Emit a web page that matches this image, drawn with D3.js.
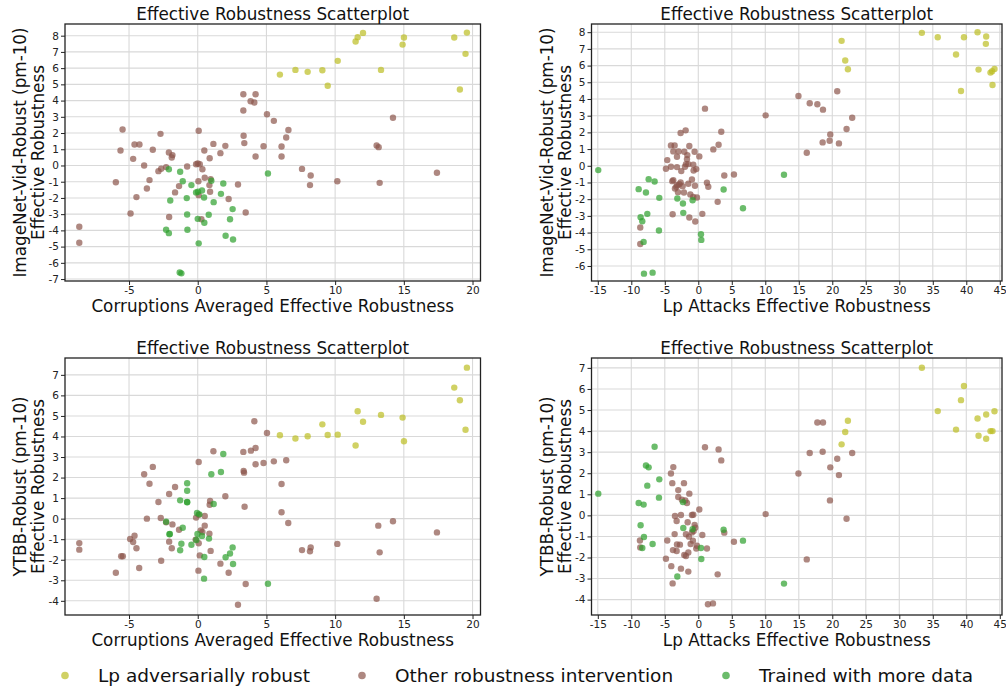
<!DOCTYPE html>
<html>
<head>
<meta charset="utf-8">
<script src="https://cdn.jsdelivr.net/npm/d3@7"></script>
<style>
  html, body { margin: 0; padding: 0; background: #fff; }
  svg { display: block; font-family: "DejaVu Sans", sans-serif; }
</style>
</head>
<body>
<svg id="chart" width="1006" height="688"></svg>
<script>
// ---- Data: [x, y] effective robustness per model, grouped by intervention type ----

// ImageNet-Vid-Robust vs. corruptions averaged effective robustness
const corrVidAdv = [[5.98,5.6],[7.11,5.89],[8.0,5.77],[9.07,5.87],[9.46,4.91],[10.19,6.45],[11.49,7.64],[11.64,7.91],[12.03,8.17],[13.34,5.89],[14.91,7.45],[15.01,7.89],[18.67,7.89],[19.59,8.19],[19.49,6.88],[19.08,4.68]];
const corrVidOther = [[-8.62,-3.78],[-8.62,-4.76],[-5.47,2.22],[-5.62,0.92],[-4.6,1.29],[-4.24,1.29],[-4.7,0.41],[-3.27,0.97],[-2.71,1.95],[-3.9,0],[-5.96,-1.03],[-3.51,-0.9],[-3.7,-1.42],[-4.46,-1.95],[-4.89,-2.96],[-2.86,-0.35],[-2.66,-0.2],[-2.3,-0.1],[-2.1,0.8],[-1.84,0.64],[-1.89,0.49],[-1.36,-1.27],[-1.65,-1.66],[-2.08,-3.18],[-0.77,-0.06],[-0.12,0.08],[0,0.12],[0.15,0.08],[0.07,2.14],[0.34,-0.23],[0.48,0.92],[0.51,-0.76],[0.87,0.45],[1.14,1.33],[0.05,-0.97],[0.94,-0.84],[0.85,-1.21],[0.9,-1.62],[0.07,-1.83],[0.27,-3.31],[1.65,0.76],[2.01,1.21],[2.25,-2.07],[2.93,-1.17],[3.49,-2.9],[3.32,4.39],[4.21,4.39],[3.85,3.96],[4.12,3.88],[3.32,3.39],[3.34,1.83],[3.39,1.38],[5.04,3.16],[5.54,2.75],[4.79,1.19],[4.21,0.55],[6.1,1.17],[6.1,0.55],[6.44,1.72],[6.6,2.19],[7.59,-0.21],[8.22,-0.62],[8.17,-1.21],[10.16,-0.97],[13.02,1.23],[13.17,1.13],[14.21,2.94],[13.24,-1.07],[17.41,-0.45]];
const corrVidData = [[-2.1,-0.23],[-1.28,-0.39],[-1.09,-0.97],[-0.46,-1.21],[-2.0,-2.16],[-0.8,-2.01],[-0.12,-1.66],[0.02,-1.62],[0.31,-1.54],[0.99,-0.94],[1.86,-1.11],[1.69,-1.75],[0.46,-1.97],[1.16,-2.26],[-0.77,-3.02],[0.8,-3.04],[0,-3.29],[0.48,-3.53],[2.54,-2.69],[2.35,-3.31],[-2.3,-3.96],[-2.1,-4.17],[-0.75,-3.96],[2.03,-4.33],[2.57,-4.56],[0.07,-4.8],[-1.31,-6.59],[-1.19,-6.65],[5.11,-0.49]];

// ImageNet-Vid-Robust vs. Lp attacks effective robustness
const lpVidAdv = [[21.39,7.48],[21.93,6.3],[22.33,5.78],[33.37,7.96],[35.74,7.7],[39.65,7.7],[41.68,8.0],[42.97,7.74],[42.92,7.3],[38.47,6.66],[41.83,5.76],[43.61,5.58],[43.86,5.66],[44.21,5.8],[39.21,4.48],[43.91,4.84]];
const lpVidOther = [[1.0,3.42],[-2.64,1.96],[-1.89,2.12],[3.43,2.04],[-4.08,1.22],[-3.53,1.22],[-1.34,1.18],[3.03,1.26],[2.24,0.98],[-3.73,0.86],[-2.94,0.86],[-2.09,0.84],[-0.55,0.84],[-1.64,0.64],[-3.18,0.54],[0.15,0.56],[-4.63,0.34],[-1.69,0.4],[-1.84,0.1],[-1.49,0.1],[-0.75,0.06],[-4.08,-0.06],[-3.18,-0.08],[-1.99,-0.06],[-4.83,-0.18],[-0.3,-0.2],[-0.7,-0.28],[-2.54,-0.32],[3.88,-0.58],[5.32,-0.52],[-0.95,-0.82],[-3.88,-0.92],[-3.73,-0.86],[-2.64,-1.0],[-2.84,-1.1],[-1.49,-1.08],[-3.13,-1.16],[-3.28,-1.26],[-2.34,-1.22],[-0.5,-1.2],[1.29,-1.02],[1.49,-1.26],[-3.48,-1.36],[-3.03,-1.58],[-2.14,-1.6],[-1.19,-1.72],[-0.75,-1.86],[-0.2,-1.9],[2.89,-2.16],[-3.83,-2.9],[-1.34,-3.1],[-0.45,-3.34],[0.6,-2.88],[-8.66,-3.7],[-8.66,-4.68],[10.05,3.02],[14.95,4.18],[16.63,3.74],[17.77,3.68],[18.61,3.36],[20.74,4.46],[22.97,2.88],[22.13,2.2],[19.7,1.88],[18.56,1.4],[19.6,1.5],[20.99,1.34],[16.19,0.78]];
const lpVidData = [[-14.93,-0.26],[-7.41,-0.8],[-6.52,-0.94],[-8.9,-1.4],[-7.81,-1.6],[-5.82,-1.92],[-8.61,-3.08],[-8.36,-3.32],[-7.61,-2.88],[-5.87,-3.88],[-8.16,-4.56],[-8.11,-6.46],[-6.82,-6.4],[-3.13,-1.96],[-2.29,-2.26],[-2.24,-2.82],[-0.85,-2.06],[0.4,-4.1],[0.45,-4.44],[3.78,-1.42],[6.67,-2.54],[12.79,-0.54]];

// YTBB-Robust vs. corruptions averaged effective robustness
const corrYtbbAdv = [[5.98,4.06],[7.11,3.9],[8.0,4.01],[9.07,4.59],[9.46,4.07],[10.19,4.09],[11.49,3.56],[11.64,5.23],[12.03,4.72],[13.34,5.05],[14.91,4.92],[15.01,3.77],[18.67,6.38],[19.08,5.76],[19.59,7.35],[19.49,4.33]];
const corrYtbbOther = [[-8.62,-1.19],[-8.62,-1.51],[-5.96,-2.63],[-5.57,-1.83],[-5.45,-1.83],[-4.92,-0.99],[-4.6,-0.83],[-4.7,-1.14],[-4.46,-1.44],[-4.26,-2.4],[-3.9,2.16],[-3.27,2.52],[-3.51,1.7],[-2.86,0.81],[-3.7,0],[-2.69,0.03],[-2.66,-2.05],[-2.08,1.2],[-1.65,1.54],[-2.3,-0.18],[-1.84,-0.28],[-1.36,-0.54],[-2.08,-1.12],[-1.89,-1.44],[0.07,2.76],[1.14,3.28],[-0.12,0.05],[0.07,0.19],[0.51,0.13],[0.51,-0.34],[0.22,-0.57],[0.34,-0.65],[0.85,-0.73],[0.87,0.68],[0.9,0.86],[2.01,1.09],[-0.15,-1.02],[0.07,-1.2],[0.15,-1.79],[0.94,-1.57],[1.65,-2.19],[2.25,-2.63],[0.05,-2.53],[3.49,-3.18],[2.93,-4.19],[3.32,3.25],[3.87,3.31],[4.21,3.44],[4.12,4.74],[5.04,4.17],[3.34,2.32],[3.37,2.24],[3.41,0.58],[4.21,2.65],[4.79,2.71],[5.54,2.79],[6.44,2.84],[6.1,1.69],[6.1,0.31],[6.59,-0.21],[7.59,-1.53],[8.22,-1.4],[8.17,-1.59],[10.16,-1.23],[13.02,-3.9],[13.14,-0.34],[13.24,-1.64],[14.21,-0.13],[17.41,-0.67]];
const corrYtbbData = [[-0.77,1.72],[-0.77,1.36],[-1.28,0.89],[-0.77,0.81],[-0.77,0.8],[-2.3,-0.15],[-2.03,-0.75],[-2.06,-0.76],[-1.09,-0.44],[-0.05,0.28],[0.12,0.21],[-0.02,-0.75],[0.31,-0.84],[-0.1,-1.04],[0.82,-0.97],[1.16,0.71],[-0.46,-1.27],[-1.19,-1.22],[-1.28,-1.54],[0.48,-1.87],[0.99,2.16],[1.69,2.27],[1.86,3.15],[2.54,-1.4],[2.35,-1.7],[2.03,-1.88],[2.57,-2.21],[0.46,-2.92],[5.11,-3.17]];

// YTBB-Robust vs. Lp attacks effective robustness
const lpYtbbAdv = [[21.39,3.37],[21.93,3.96],[22.33,4.49],[33.37,7.01],[35.74,4.95],[39.65,6.14],[39.21,5.47],[38.47,4.07],[41.68,4.6],[42.97,4.79],[41.83,3.78],[42.97,3.64],[44.21,4.94],[43.61,4.0],[43.91,4.0]];
const lpYtbbOther = [[1.0,3.23],[3.03,3.13],[3.43,2.61],[-3.73,2.29],[-4.08,1.99],[-3.88,1.53],[-2.14,1.53],[-2.99,1.2],[-1.34,1.03],[-2.99,0.87],[-2.44,0.74],[-1.94,0.71],[-1.69,0.59],[0.15,0.28],[-3.48,-0.03],[-2.59,0.02],[-0.95,0.02],[-0.75,0.03],[-3.23,-0.27],[-1.59,-0.33],[-0.55,-0.46],[-0.45,-0.59],[-0.7,-0.74],[-0.95,-0.81],[-3.53,-0.89],[-1.84,-0.9],[-1.39,-1.01],[0.6,-0.93],[3.88,-0.82],[-4.63,-1.19],[-0.8,-1.2],[-3.18,-1.38],[-2.74,-1.39],[-1.14,-1.36],[-0.2,-1.44],[-0.3,-1.57],[1.29,-1.57],[-3.78,-1.65],[-3.23,-1.69],[-1.49,-1.76],[-2.09,-1.88],[-1.84,-1.93],[5.32,-1.25],[-4.83,-2.06],[-4.03,-2.41],[-2.59,-2.53],[-1.49,-2.67],[2.89,-2.8],[-3.83,-3.23],[1.44,-4.22],[2.19,-4.18],[-8.71,-1.19],[-8.66,-1.52],[10.05,0.06],[14.95,1.99],[16.19,-2.09],[16.63,2.96],[17.77,4.41],[18.61,4.41],[18.56,3.02],[19.7,2.28],[20.74,2.69],[20.99,1.91],[19.65,0.71],[22.13,-0.16],[22.97,2.96]];
const lpYtbbData = [[-14.93,1.03],[-6.52,3.26],[-7.81,2.37],[-7.41,2.28],[-5.82,1.71],[-7.61,1.41],[-5.87,0.84],[-8.9,0.59],[-8.16,0.51],[-8.61,-0.47],[-8.11,-1.03],[-8.36,-1.55],[-6.82,-1.36],[-2.29,0.63],[-2.24,-0.6],[-0.85,-0.66],[0.4,-1.55],[0.45,-2.07],[-3.13,-2.9],[3.78,-0.68],[6.67,-1.2],[12.79,-3.24]];

// ---- Labels and ticks ----
const groupNames = ["Lp adversarially robust", "Other robustness intervention", "Trained with more data"];
const groupColors = ["#bcbd22", "#8c564b", "#2ca02c"];
const panelTitle = "Effective Robustness Scatterplot";
const xLabelCorr = "Corruptions Averaged Effective Robustness";
const xLabelLp = "Lp Attacks Effective Robustness";
const yLabelVid = ["ImageNet-Vid-Robust (pm-10)", "Effective Robustness"];
const yLabelYtbb = ["YTBB-Robust (pm-10)", "Effective Robustness"];
const xTicksCorr = [-5, 0, 5, 10, 15, 20];
const xTicksLp = [-15, -10, -5, 0, 5, 10, 15, 20, 25, 30, 35, 40, 45];
const yTicksVidCorr = d3.range(-7, 9);
const yTicksVidLp = d3.range(-6, 9);
const yTicksYtbb = d3.range(-4, 8);

// ---- Panel layout ----
const colLeft = { x0: 65, x1: 480.5 };
const colRight = { x0: 591.5, x1: 1002 };
const rowTop = { y0: 24, y1: 281 };
const rowBottom = { y0: 358, y1: 615 };

const panels = [
  { col: colLeft, row: rowTop, xDom: [-9.66, 20.58], yDom: [-7.12, 8.72], xTicks: xTicksCorr, yTicks: yTicksVidCorr,
    xLabel: xLabelCorr, yLabel: yLabelVid, groups: [corrVidAdv, corrVidOther, corrVidData] },
  { col: colRight, row: rowTop, xDom: [-15.94, 45.33], yDom: [-6.9, 8.49], xTicks: xTicksLp, yTicks: yTicksVidLp,
    xLabel: xLabelLp, yLabel: yLabelVid, groups: [lpVidAdv, lpVidOther, lpVidData] },
  { col: colLeft, row: rowBottom, xDom: [-9.66, 20.58], yDom: [-4.69, 7.82], xTicks: xTicksCorr, yTicks: yTicksYtbb,
    xLabel: xLabelCorr, yLabel: yLabelYtbb, groups: [corrYtbbAdv, corrYtbbOther, corrYtbbData] },
  { col: colRight, row: rowBottom, xDom: [-15.94, 45.33], yDom: [-4.73, 7.47], xTicks: xTicksLp, yTicks: yTicksYtbb,
    xLabel: xLabelLp, yLabel: yLabelYtbb, groups: [lpYtbbAdv, lpYtbbOther, lpYtbbData] }
];

const svg = d3.select("#chart");
const fmt = d => String(d); // hyphen-minus for negatives

panels.forEach(p => {
  const x = d3.scaleLinear().domain(p.xDom).range([p.col.x0, p.col.x1]);
  const y = d3.scaleLinear().domain(p.yDom).range([p.row.y1, p.row.y0]);
  const g = svg.append("g");
  const w = p.col.x1 - p.col.x0, h = p.row.y1 - p.row.y0;

  // grid
  const grid = g.append("g").attr("stroke", "#d9d9d9").attr("stroke-width", 1.1);
  grid.selectAll("line.v").data(p.xTicks).join("line")
    .attr("x1", d => x(d)).attr("x2", d => x(d))
    .attr("y1", p.row.y0).attr("y2", p.row.y1);
  grid.selectAll("line.h").data(p.yTicks).join("line")
    .attr("y1", d => y(d)).attr("y2", d => y(d))
    .attr("x1", p.col.x0).attr("x2", p.col.x1);

  // points
  p.groups.forEach((pts, i) => {
    g.append("g").selectAll("circle").data(pts).join("circle")
      .attr("cx", d => x(d[0])).attr("cy", d => y(d[1]))
      .attr("r", 3.2)
      .attr("fill", groupColors[i]).attr("fill-opacity", 0.7);
  });

  // axes
  const xAxis = d3.axisBottom(x).tickValues(p.xTicks).tickFormat(fmt).tickSizeInner(4).tickSizeOuter(0).tickPadding(2);
  const yAxis = d3.axisLeft(y).tickValues(p.yTicks).tickFormat(fmt).tickSizeInner(4).tickSizeOuter(0).tickPadding(2);
  const gx = g.append("g").attr("transform", `translate(0,${p.row.y1})`).call(xAxis);
  const gy = g.append("g").attr("transform", `translate(${p.col.x0},0)`).call(yAxis);
  [gx, gy].forEach(a => {
    a.select(".domain").remove();
    a.selectAll(".tick line").attr("stroke", "#222").attr("stroke-width", 1);
    a.selectAll(".tick text").attr("fill", "#222").style("font-size", "10.5px").style("font-family", "DejaVu Sans");
  });

  // frame
  g.append("rect").attr("x", p.col.x0).attr("y", p.row.y0).attr("width", w).attr("height", h)
    .attr("fill", "none").attr("stroke", "#222").attr("stroke-width", 1.3);

  const cx = (p.col.x0 + p.col.x1) / 2;
  const cy = (p.row.y0 + p.row.y1) / 2;

  // title
  g.append("text").attr("x", cx).attr("y", p.row.y0 - 4).attr("text-anchor", "middle")
    .style("font-size", "16.8px").attr("fill", "#111").text(panelTitle);

  // x label
  g.append("text").attr("x", cx).attr("y", p.row.y1 + 30.5).attr("text-anchor", "middle")
    .style("font-size", "16.8px").attr("fill", "#111").text(p.xLabel);

  // y label (two lines, rotated)
  p.yLabel.forEach((line, i) => {
    const bx = p.col.x0 - 39 + i * 18;
    g.append("text").attr("transform", `translate(${bx},${cy}) rotate(-90)`)
      .attr("text-anchor", "middle").style("font-size", "16.8px").attr("fill", "#111").text(line);
  });
});

// legend
const legendDotX = [65, 362, 726];
const legend = svg.append("g");
groupNames.forEach((name, i) => {
  legend.append("circle").attr("cx", legendDotX[i]).attr("cy", 675.5).attr("r", 3.8)
    .attr("fill", groupColors[i]).attr("fill-opacity", 0.7);
  legend.append("text").attr("x", legendDotX[i] + 33).attr("y", 681.5)
    .style("font-size", "18.5px").attr("fill", "#111").text(name);
});
</script>
</body>
</html>
